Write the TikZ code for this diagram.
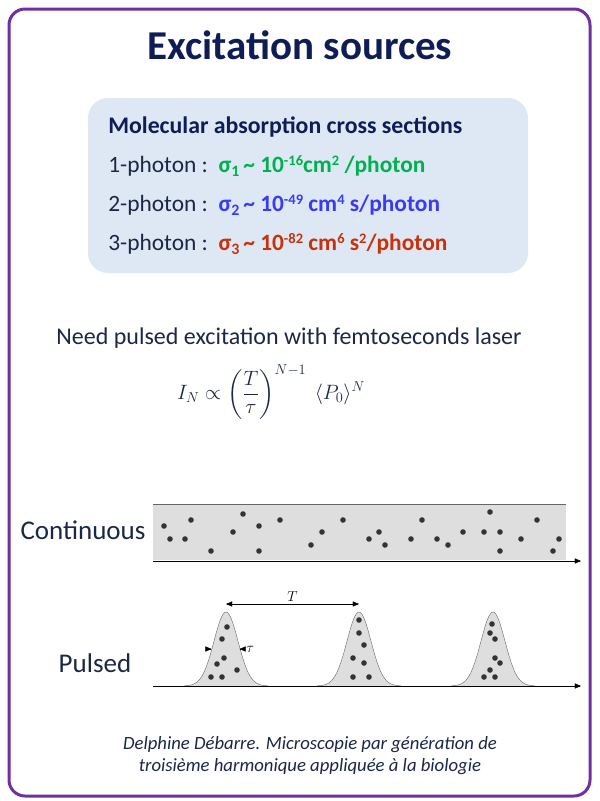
\documentclass[tikz,border=0pt]{standalone}
\usepackage{amsmath}
\usepackage{graphicx}
\usepackage{fontspec}
\setmainfont{Carlito}
\usetikzlibrary{arrows, positioning}

\definecolor{framepurple}{HTML}{7030A0}
\definecolor{navy}{HTML}{0F1D57}
\definecolor{textnavy}{HTML}{1B2747}
\definecolor{boxblue}{HTML}{DEE8F4}
\definecolor{onegreen}{HTML}{00B050}
\definecolor{twoblue}{HTML}{3A3AF2}
\definecolor{threered}{HTML}{C8320A}
\definecolor{bandgray}{HTML}{DEDEDE}
\definecolor{dotgray}{HTML}{333333}

\newcommand\upx[1]{\raisebox{0.62ex}{\scalebox{0.62}{#1}}}
\newcommand\dnx[1]{\raisebox{-0.38ex}{\scalebox{0.68}{#1}}}

\begin{document}
\begin{tikzpicture}[x=1pt, y=-1pt, >=triangle 45, semithick,
    title/.style={font=\fontsize{41}{48}\selectfont\bfseries, text=navy},
    infobox/.style={fill=boxblue, rounded corners=20pt, minimum width=440pt, minimum height=175pt},
    line/.style={anchor=west, font=\fontsize{23.4}{28}\selectfont, text=textnavy, inner sep=0pt},
    label/.style={font=\fontsize{27}{32}\selectfont, text=textnavy, inner sep=1pt},
    band/.style={fill=bandgray, draw=none},
    pulse/.style={fill=bandgray, draw=gray!80!black, thin},
    axis/.style={->, black, thin},
    dot/.style={fill=dotgray, draw=none}]
    \useasboundingbox (0,0) rectangle (600,801);
    % frame
    \draw[framepurple, line width=3pt, rounded corners=16pt] (9,9) rectangle (590,796);
    \node[title] (title) at (300,45) {Excitation sources};

    % cross sections
    \node[infobox] (box) at (308,185.5) {};
    \node[line, font=\fontsize{23.8}{28}\selectfont\bfseries, text=navy] (head) at (108,127) {Molecular absorption cross sections};
    \node[line] (one) at (108,166) {1-photon :\ \ {\bfseries\color{onegreen}σ\dnx{1}\,\textasciitilde{} 10\upx{-16}cm\upx{2} /photon}};
    \node[line] (two) at (108,205) {2-photon :\ \ {\bfseries\color{twoblue}σ\dnx{2}\,\textasciitilde{} 10\upx{-49} cm\upx{4} s/photon}};
    \node[line] (three) at (108,244) {3-photon :\ \ {\bfseries\color{threered}σ\dnx{3}\,\textasciitilde{} 10\upx{-82} cm\upx{6} s\upx{2}/photon}};

    \node[label, font=\fontsize{24}{28}\selectfont] (need) at (289,338) {Need pulsed excitation with femtoseconds laser};
    \node[label, font=\fontsize{22.5}{26}\selectfont, inner sep=0pt] (law) at (271,392) {$I_N \propto \left(\dfrac{T}{\tau}\right)^{N-1}\ \langle P_0\rangle^N$};

    % continuous
    \node[label] (cont) at (83,530) {Continuous};
    \fill[band] (153,504) rectangle (566,560);
    \draw[gray!80!black, thin] (153,504) -- (566,504);
    \coordinate (c0) at (153,561);
    \coordinate (c1) at (581,561);
    \draw[axis] (c0) -- (c1);
    \foreach \px/\py in {164/526, 170/539, 185/539, 191/520, 211/551, 233/532, 243/514,
        259/526, 259/551, 280/520, 311/545, 322/532, 343/520, 369/539, 379/532, 385/545,
        411/539, 422/520, 437/539, 448/545, 463/532, 484/532, 490/512, 500/532, 500/551,
        521/539, 537/520, 553/551, 559/539}
        \fill[dot] (\px,\py) circle (2.8);

    % pulsed
    \node[label] (puls) at (95,663) {Pulsed};
    \foreach \cx in {226, 359, 493}
        \draw[pulse] plot[domain=-42:42, samples=61] ({\cx+\x}, {686-74*exp(-(\x/12)^2/2)});
    \coordinate (p0) at (153,686);
    \coordinate (p1) at (581,686);
    \draw[axis] (p0) -- (p1);
    \foreach \px/\py in {227/627, 222/639, 224/658, 217/664, 237/670, 211/677, 222/677,
        359/620, 359/633, 364/645, 353/658, 364/663, 353/677, 369/677,
        492/624, 490/633, 495/639, 495/658, 500/663, 490/670, 484/677, 495/677}
        \fill[dot] (\px,\py) circle (2.8);

    % period and width
    \coordinate (t0) at (226,604);
    \coordinate (t1) at (359,604);
    \draw[<->, thin] (t0) -- node[above=-1pt, font=\fontsize{15}{18}\selectfont] (tlab) {$T$} (t1);
    \coordinate (w0) at (205,649);
    \coordinate (w1) at (211.5,649);
    \coordinate (w2) at (246,649);
    \coordinate (w3) at (239.5,649);
    \draw[->, thin, shorten <=4pt] (w0) -- (w1);
    \draw[->, thin, shorten <=4pt] (w2) -- (w3);
    \node[right=0pt of w2, inner sep=0pt, font=\fontsize{15}{18}\selectfont] (tau) {$\tau$};

    % reference
    \node[text=textnavy, font=\fontsize{18.7}{22}\selectfont\itshape, align=center] (cite) at (310,756)
        {Delphine Débarre. Microscopie par génération de\\troisième harmonique appliquée à la biologie};
\end{tikzpicture}
\end{document}
